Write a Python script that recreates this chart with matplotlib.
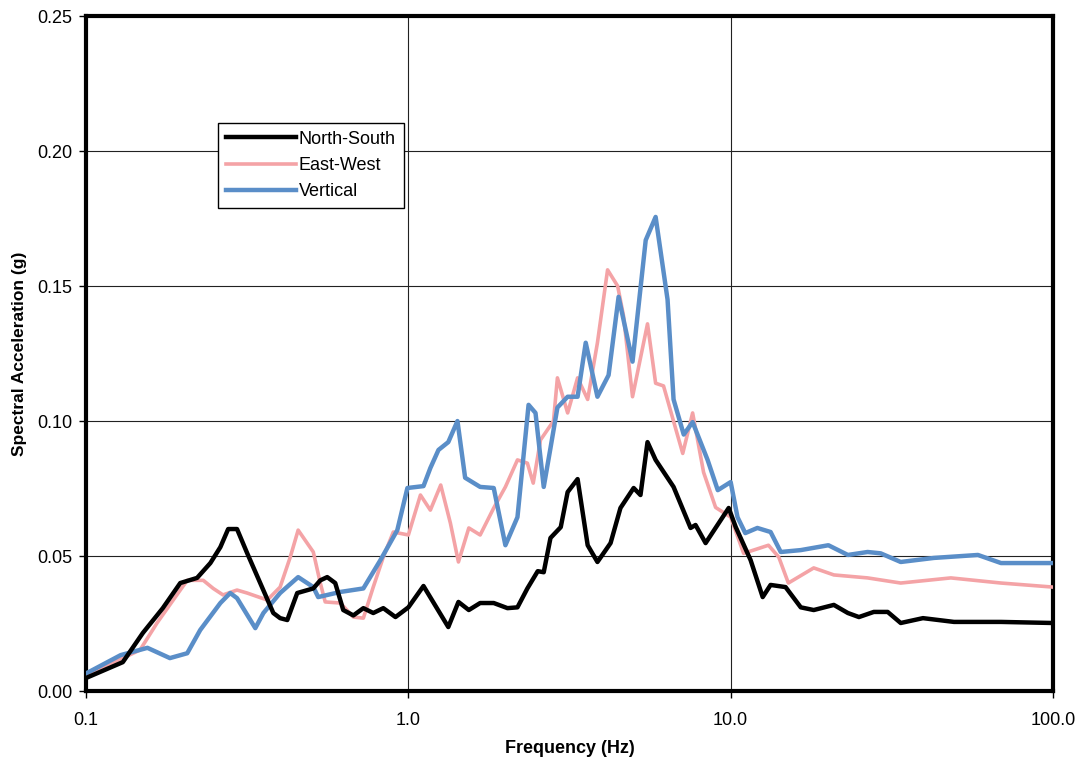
import numpy as np
import matplotlib.pyplot as plt
from matplotlib.ticker import FixedLocator, FuncFormatter

plt.rcParams['font.family'] = ['Liberation Sans', 'DejaVu Sans']

# Response spectra, frequency in Hz and spectral acceleration in g
ns_freq = [0.1007, 0.130, 0.150, 0.173, 0.196, 0.221, 0.243, 0.261, 0.276, 0.294,
           0.316, 0.347, 0.381, 0.400, 0.421, 0.452, 0.507, 0.533, 0.560, 0.593,
           0.628, 0.675, 0.725, 0.778, 0.836, 0.912, 1.0, 1.114, 1.33, 1.43,
           1.54, 1.67, 1.84, 2.03, 2.18, 2.34, 2.52, 2.63, 2.76, 2.97,
           3.12, 3.35, 3.60, 3.86, 4.24, 4.55, 5.00, 5.25, 5.52, 5.85,
           6.65, 7.51, 7.78, 8.36, 9.86, 10.37, 11.53, 12.57, 13.3, 14.8,
           16.5, 18.1, 20.9, 23.1, 25.0, 27.8, 30.7, 33.7, 39.5, 49.3,
           69.0, 100.0]
ns_acc = [0.005, 0.0107, 0.0215, 0.0307, 0.040, 0.0419, 0.0474, 0.0533, 0.060, 0.060,
          0.0511, 0.040, 0.0289, 0.027, 0.0263, 0.0363, 0.038, 0.041, 0.0422, 0.040,
          0.030, 0.028, 0.0307, 0.0289, 0.0307, 0.0274, 0.031, 0.0389, 0.0237, 0.033,
          0.030, 0.0326, 0.0326, 0.0307, 0.031, 0.038, 0.0444, 0.044, 0.0567, 0.0607,
          0.0737, 0.0785, 0.054, 0.0478, 0.0548, 0.0678, 0.0752, 0.0726, 0.0922, 0.0856,
          0.0756, 0.0604, 0.0615, 0.0548, 0.0678, 0.0607, 0.0485, 0.0348, 0.0393, 0.0385,
          0.031, 0.030, 0.0319, 0.0289, 0.0274, 0.0293, 0.0293, 0.0252, 0.027, 0.0256,
          0.0256, 0.0252]

ew_freq = [0.1007, 0.121, 0.147, 0.166, 0.196, 0.206, 0.231, 0.248, 0.266, 0.294,
           0.316, 0.365, 0.400, 0.430, 0.455, 0.507, 0.533, 0.552, 0.615, 0.675,
           0.725, 0.778, 0.836, 0.898, 1.0, 1.09, 1.17, 1.26, 1.35, 1.43,
           1.54, 1.67, 1.84, 2.00, 2.18, 2.34, 2.44, 2.57, 2.82, 2.90,
           3.12, 3.35, 3.60, 3.86, 4.15, 4.46, 4.65, 4.96, 5.52, 5.85,
           6.19, 6.61, 7.10, 7.62, 8.24, 8.98, 10.0, 10.97, 13.1, 14.1,
           15.1, 18.1, 20.9, 26.6, 33.7, 48.2, 69.0, 100.0]
ew_acc = [0.0055, 0.0104, 0.0152, 0.0252, 0.0374, 0.041, 0.041, 0.038, 0.0356, 0.0374,
          0.0363, 0.0337, 0.0385, 0.0496, 0.0596, 0.0515, 0.040, 0.033, 0.0326, 0.0274,
          0.027, 0.0385, 0.0496, 0.0589, 0.0578, 0.0726, 0.067, 0.0763, 0.0622, 0.0478,
          0.0604, 0.0578, 0.0678, 0.0756, 0.0856, 0.0844, 0.077, 0.093, 0.100, 0.116,
          0.103, 0.116, 0.108, 0.129, 0.156, 0.150, 0.139, 0.109, 0.136, 0.114,
          0.113, 0.101, 0.088, 0.103, 0.081, 0.068, 0.0644, 0.051, 0.054, 0.0496,
          0.040, 0.0456, 0.043, 0.0419, 0.040, 0.0419, 0.040, 0.0385]

v_freq = [0.1007, 0.128, 0.155, 0.182, 0.206, 0.226, 0.261, 0.280, 0.294, 0.335,
          0.355, 0.400, 0.455, 0.507, 0.525, 0.615, 0.725, 0.819, 0.924, 0.993,
          1.114, 1.17, 1.24, 1.33, 1.42, 1.50, 1.67, 1.84, 2.00, 2.18,
          2.36, 2.48, 2.63, 2.76, 2.90, 3.12, 3.35, 3.55, 3.86, 4.18,
          4.49, 4.96, 5.45, 5.85, 6.37, 6.65, 7.15, 7.62, 8.48, 9.12,
          10.0, 10.5, 11.1, 12.1, 13.3, 14.3, 16.5, 20.1, 23.1, 26.6,
          29.2, 33.7, 42.7, 58.5, 69.0, 100.0]
v_acc = [0.0067, 0.0133, 0.016, 0.0122, 0.014, 0.0226, 0.0326, 0.0363, 0.0344, 0.0233,
         0.0289, 0.0363, 0.0422, 0.0385, 0.0348, 0.0367, 0.038, 0.0485, 0.0596, 0.0752,
         0.0759, 0.0826, 0.0893, 0.0922, 0.100, 0.079, 0.0756, 0.0752, 0.054, 0.0644,
         0.106, 0.103, 0.0756, 0.090, 0.105, 0.109, 0.109, 0.129, 0.109, 0.117,
         0.146, 0.122, 0.167, 0.1756, 0.145, 0.108, 0.095, 0.0996, 0.0856, 0.0744,
         0.0774, 0.0644, 0.0585, 0.0604, 0.0589, 0.0515, 0.0522, 0.054, 0.0504, 0.0515,
         0.051, 0.0478, 0.0493, 0.0504, 0.0474, 0.0474]

x_ticks = [0.1, 1.0, 10.0, 100.0]
x_ticklabels = ['0.1', '1.0', '10.0', '100.0']
y_ticks = [0.0, 0.05, 0.10, 0.15, 0.20, 0.25]

fig = plt.figure(figsize=(10.76, 7.64), dpi=100)
ax = fig.add_axes([0.080, 0.0955, 0.8986, 0.8835])

ax.plot(ns_freq, ns_acc, color='black', lw=3.2, label='North-South', zorder=4)
ax.plot(ew_freq, ew_acc, color='#f4a3a6', lw=2.6, label='East-West', zorder=3)
ax.plot(v_freq, v_acc, color='#5a8ec8', lw=3.2, label='Vertical', zorder=3)

ax.set_xscale('log')
ax.set_xlim(0.1, 100)
ax.set_ylim(0, 0.25)
ax.xaxis.set_major_locator(FixedLocator(x_ticks))
ax.xaxis.set_minor_locator(FixedLocator([]))
ax.set_xticks(x_ticks)
ax.set_xticklabels(x_ticklabels)
ax.set_yticks(y_ticks)
ax.yaxis.set_major_formatter(FuncFormatter(lambda v, p: f"{v:.2f}"))
ax.tick_params(axis='both', direction='out', length=5, width=1, labelsize=13,
               color='black')
ax.tick_params(axis='x', pad=10)
ax.tick_params(axis='y', pad=5)

ax.grid(True, color='#222222', lw=0.8, zorder=1)
for s in ax.spines.values():
    s.set_linewidth(3)
    s.set_color('black')

ax.set_xlabel('Frequency (Hz)', fontsize=13, fontweight='bold', labelpad=8)
ax.set_ylabel('Spectral Acceleration (g)', fontsize=12.5, fontweight='bold', labelpad=7)

leg = ax.legend(loc='upper left', bbox_to_anchor=(0.136, 0.842), fontsize=13,
                frameon=True, fancybox=False, edgecolor='black', framealpha=1,
                handlelength=3.9, handletextpad=0.15, labelspacing=0.5,
                borderpad=0.45, borderaxespad=0)
leg.get_frame().set_linewidth(1.0)
leg.set_zorder(5)

fig.savefig('out.png', dpi=100)
